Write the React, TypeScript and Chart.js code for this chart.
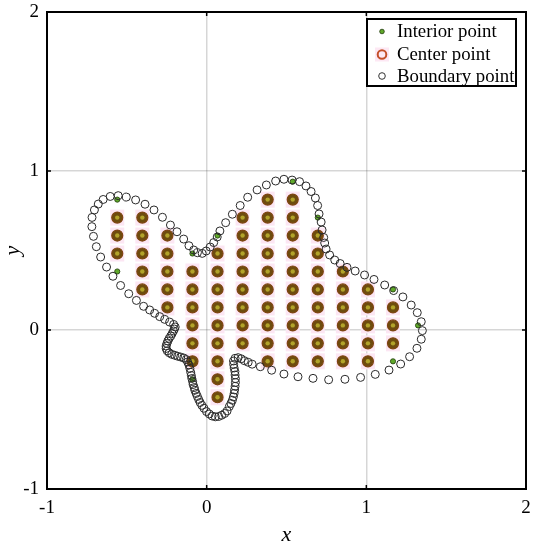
import React, { useEffect, useRef } from 'react';
import { Chart, registerables } from 'chart.js';

Chart.register(...registerables);

// axis ticks
const xTickValues = [-1, 0, 1, 2];
const yTickValues = [-1, 0, 1, 2];

// interior grid (column x-values, row y-values)
const gridXs = [-0.56, -0.403, -0.246, -0.089, 0.068, 0.225, 0.382, 0.539, 0.696, 0.853, 1.01, 1.167, 1.324];
const gridYs = [0.933, 0.82, 0.707, 0.594, 0.481, 0.368, 0.255, 0.142, 0.029, -0.084, -0.197, -0.31, -0.423];

// column indices of interior points in each row
const interiorCols: number[][] = [
  [7],
  [0, 6, 7],
  [0, 1, 5, 6, 7, 8],
  [0, 1, 2, 4, 5, 6, 7, 8],
  [0, 1, 2, 3, 4, 5, 6, 7, 8],
  [0, 1, 2, 3, 4, 5, 6, 7, 8, 9],
  [1, 2, 3, 4, 5, 6, 7, 8, 9, 10, 11],
  [2, 3, 4, 5, 6, 7, 8, 9, 10, 11],
  [3, 4, 5, 6, 7, 8, 9, 10, 11, 12],
  [3, 4, 5, 6, 7, 8, 9, 10, 11],
  [3, 4, 6, 7, 8, 9, 10, 11],
  [3, 4],
  [4],
];

// interior points that are not center points [row, col]
const nonCenter: [number, number][] = [
  [0, 7], [1, 0], [2, 8], [3, 4], [4, 3], [5, 0], [6, 11], [8, 12], [10, 11], [11, 3],
];

// boundary points
const boundaryX = [
  1.351, 1.344, 1.319, 1.281, 1.229, 1.171, 1.115, 1.048, 0.989, 0.930,
  0.879, 0.836, 0.802, 0.770, 0.748, 0.739, 0.733, 0.723, 0.717, 0.704,
  0.695, 0.681, 0.654, 0.622, 0.582, 0.535, 0.484, 0.432, 0.374, 0.316,
  0.257, 0.210, 0.161, 0.119, 0.083, 0.066, 0.044, 0.022, -0.003, -0.028,
  -0.058, -0.081, -0.111, -0.144, -0.186, -0.227, -0.277, -0.330, -0.386, -0.445,
  -0.503, -0.554, -0.604, -0.648, -0.679, -0.703, -0.718, -0.719, -0.709, -0.691,
  -0.664, -0.627, -0.587, -0.539, -0.488, -0.440, -0.395, -0.357, -0.326, -0.294,
  -0.263, -0.232, -0.207, -0.197, -0.202, -0.208, -0.216, -0.225, -0.235, -0.243,
  -0.249, -0.254, -0.254, -0.247, -0.235, -0.219, -0.200, -0.182, -0.163, -0.144,
  -0.128, -0.119, -0.111, -0.105, -0.100, -0.096, -0.093, -0.088, -0.085, -0.078,
  -0.074, -0.066, -0.058, -0.050, -0.041, -0.030, -0.017, -0.001, 0.016, 0.034,
  0.054, 0.075, 0.094, 0.113, 0.128, 0.142, 0.152, 0.161, 0.167, 0.172,
  0.175, 0.178, 0.180, 0.180, 0.178, 0.177, 0.172, 0.169, 0.168, 0.178,
  0.197, 0.216, 0.236, 0.260, 0.285, 0.336, 0.407, 0.484, 0.572, 0.666,
  0.764, 0.866, 0.964, 1.056, 1.142, 1.215, 1.271, 1.317, 1.344,
];
const boundaryY = [
  -0.004, 0.052, 0.109, 0.157, 0.208, 0.248, 0.283, 0.318, 0.346, 0.371,
  0.394, 0.418, 0.440, 0.472, 0.509, 0.547, 0.582, 0.629, 0.679, 0.730,
  0.783, 0.830, 0.871, 0.906, 0.933, 0.943, 0.948, 0.937, 0.912, 0.881,
  0.835, 0.783, 0.728, 0.675, 0.623, 0.585, 0.550, 0.522, 0.497, 0.482,
  0.486, 0.503, 0.530, 0.572, 0.618, 0.660, 0.709, 0.755, 0.791, 0.818,
  0.836, 0.845, 0.840, 0.821, 0.792, 0.755, 0.708, 0.650, 0.589, 0.524,
  0.459, 0.396, 0.338, 0.280, 0.228, 0.186, 0.149, 0.126, 0.105, 0.084,
  0.067, 0.050, 0.035, 0.019, 0.006, -0.006, -0.022, -0.038, -0.053, -0.069,
  -0.085, -0.101, -0.116, -0.131, -0.143, -0.153, -0.159, -0.165, -0.170, -0.176,
  -0.186, -0.201, -0.220, -0.242, -0.266, -0.286, -0.305, -0.324, -0.343, -0.362,
  -0.379, -0.399, -0.418, -0.437, -0.456, -0.474, -0.492, -0.513, -0.528, -0.541,
  -0.546, -0.544, -0.536, -0.525, -0.509, -0.481, -0.462, -0.442, -0.421, -0.399,
  -0.377, -0.354, -0.330, -0.306, -0.283, -0.261, -0.239, -0.217, -0.195, -0.178,
  -0.174, -0.181, -0.193, -0.203, -0.215, -0.231, -0.253, -0.277, -0.294, -0.304,
  -0.313, -0.310, -0.298, -0.279, -0.252, -0.214, -0.168, -0.115, -0.058,
];

const legendLabels = ['Interior point', 'Center point', 'Boundary point'];

const SERIF = '"Liberation Serif", "Times New Roman", serif';

// faint pink cell patches behind center points, drawn from the center dataset's points
const patchPlugin = {
  id: 'patches',
  beforeDatasetsDraw(chart: any) {
    const { ctx } = chart;
    const meta = chart.getDatasetMeta(1);
    ctx.save();
    ctx.fillStyle = '#fce6f3';
    meta.data.forEach((pt: any) => {
      ctx.fillRect(pt.x - 7, pt.y - 8, 14, 16);
    });
    ctx.restore();
  },
};

const framePlugin = {
  id: 'frameAndLegend',
  afterDraw(chart: any) {
    const { ctx, chartArea, scales } = chart;
    const { left, right, top, bottom } = chartArea;
    ctx.save();
    // inner tick marks
    ctx.strokeStyle = '#000';
    ctx.lineWidth = 1.5;
    const tl = 4;
    xTickValues.slice(1, -1).forEach((v) => {
      const px = scales.x.getPixelForValue(v);
      ctx.beginPath();
      ctx.moveTo(px, bottom);
      ctx.lineTo(px, bottom - tl);
      ctx.moveTo(px, top);
      ctx.lineTo(px, top + tl);
      ctx.stroke();
    });
    yTickValues.slice(1, -1).forEach((v) => {
      const py = scales.y.getPixelForValue(v);
      ctx.beginPath();
      ctx.moveTo(left, py);
      ctx.lineTo(left + tl, py);
      ctx.moveTo(right, py);
      ctx.lineTo(right - tl, py);
      ctx.stroke();
    });
    // frame
    ctx.lineWidth = 2;
    ctx.strokeRect(left, top, right - left, bottom - top);

    // legend
    const w = 149;
    const h = 67;
    const x0 = right - 10 - w;
    const y0 = top + 7;
    ctx.fillStyle = '#fff';
    ctx.fillRect(x0, y0, w, h);
    ctx.lineWidth = 2;
    ctx.strokeStyle = '#000';
    ctx.strokeRect(x0, y0, w, h);
    const rowsY = [y0 + 12.5, y0 + 35.5, y0 + 57];
    const mx = x0 + 15;
    // interior marker
    ctx.beginPath();
    ctx.arc(mx, rowsY[0], 2.3, 0, Math.PI * 2);
    ctx.fillStyle = '#5fa82a';
    ctx.fill();
    ctx.lineWidth = 0.8;
    ctx.strokeStyle = '#1f3a0a';
    ctx.stroke();
    // center marker
    ctx.fillStyle = '#fde8f4';
    ctx.fillRect(mx - 7, rowsY[1] - 7, 14, 14);
    ctx.beginPath();
    ctx.arc(mx, rowsY[1], 4.3, 0, Math.PI * 2);
    ctx.lineWidth = 2;
    ctx.strokeStyle = '#c4502a';
    ctx.stroke();
    // boundary marker
    ctx.beginPath();
    ctx.arc(mx, rowsY[2], 3.3, 0, Math.PI * 2);
    ctx.lineWidth = 1;
    ctx.strokeStyle = '#333';
    ctx.stroke();
    // texts
    ctx.fillStyle = '#000';
    ctx.font = `18.8px ${SERIF}`;
    ctx.textBaseline = 'middle';
    ctx.textAlign = 'left';
    legendLabels.forEach((t, i) => ctx.fillText(t, x0 + 30, rowsY[i] + 1));
    ctx.restore();
  },
};

export default function App() {
  const ref = useRef<HTMLCanvasElement | null>(null);

  useEffect(() => {
    if (!ref.current) return;
    const interior: { x: number; y: number; center: boolean }[] = [];
    const centers: { x: number; y: number }[] = [];
    interiorCols.forEach((cols, r) => {
      cols.forEach((c) => {
        const isCenter = !nonCenter.some(([rr, cc]) => rr === r && cc === c);
        interior.push({ x: gridXs[c], y: gridYs[r], center: isCenter });
        if (isCenter) centers.push({ x: gridXs[c], y: gridYs[r] });
      });
    });
    const boundary = boundaryX.map((x, i) => ({ x, y: boundaryY[i] }));

    const gridColor = (ctx: any) =>
      ctx.tick && (ctx.tick.value === -1 || ctx.tick.value === 2) ? 'rgba(0,0,0,0)' : 'rgba(0,0,0,0.16)';

    const chart = new Chart(ref.current, {
      type: 'scatter',
      data: {
        datasets: [
          {
            label: 'Boundary point',
            data: boundary,
            order: 0,
            pointStyle: 'circle',
            pointRadius: 4,
            borderColor: '#2a2a2a',
            borderWidth: 1,
            backgroundColor: 'rgba(0,0,0,0)',
          },
          {
            label: 'Center point',
            data: centers,
            order: 2,
            pointStyle: 'circle',
            pointRadius: 5.5,
            backgroundColor: '#6e4c0e',
            borderColor: '#7e4412',
            borderWidth: 1.2,
          },
          {
            label: 'Interior point',
            data: interior,
            order: 1,
            pointStyle: 'circle',
            pointRadius: (ctx: any) => (ctx.raw && ctx.raw.center ? 2.2 : 2.6),
            backgroundColor: (ctx: any) => (ctx.raw && ctx.raw.center ? '#b2a32a' : '#5fa82a'),
            borderColor: (ctx: any) => (ctx.raw && ctx.raw.center ? 'rgba(0,0,0,0)' : '#1f3a0a'),
            borderWidth: 0.8,
          },
        ],
      },
      options: {
        animation: false,
        responsive: false,
        devicePixelRatio: 1,
        events: [],
        layout: { padding: { top: 12, right: 15, left: 0, bottom: 0 } },
        plugins: { legend: { display: false }, tooltip: { enabled: false } },
        scales: {
          x: {
            type: 'linear',
            min: -1,
            max: 2,
            afterFit: (s: any) => {
              s.height = 61;
              s.paddingLeft = 0;
              s.paddingRight = 0;
            },
            ticks: {
              stepSize: 1,
              color: '#000',
              padding: 8,
              font: { family: SERIF, size: 19 },
            },
            grid: { color: gridColor, lineWidth: 1.5, drawTicks: false },
            border: { display: false },
            title: {
              display: true,
              text: 'x',
              color: '#000',
              font: { family: SERIF, size: 22, style: 'italic' },
              padding: { top: 0, bottom: 2 },
            },
          },
          y: {
            type: 'linear',
            min: -1,
            max: 2,
            afterFit: (s: any) => {
              s.width = 47;
              s.paddingTop = 0;
              s.paddingBottom = 0;
            },
            ticks: {
              stepSize: 1,
              color: '#000',
              padding: 8,
              font: { family: SERIF, size: 19 },
            },
            grid: { color: gridColor, lineWidth: 1.5, drawTicks: false },
            border: { display: false },
            title: {
              display: true,
              text: 'y',
              color: '#000',
              font: { family: SERIF, size: 22, style: 'italic' },
              padding: { top: 0, bottom: 0 },
            },
          },
        },
      } as any,
      plugins: [patchPlugin, framePlugin],
    });
    return () => chart.destroy();
  }, []);

  return (
    <div style={{ position: 'absolute', left: 0, top: 0, width: 541, height: 550, background: '#fff' }}>
      <canvas ref={ref} width={541} height={550} style={{ width: 541, height: 550, display: 'block' }} />
    </div>
  );
}
